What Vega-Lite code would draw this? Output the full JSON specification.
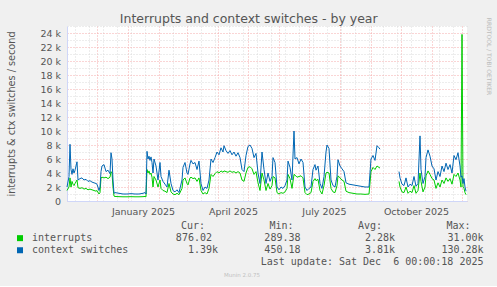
{
"$schema": "https://vega.github.io/schema/vega-lite/v6.json",
"background": "#f0f0f0",
"padding": {"left": 5, "top": 12, "right": 7, "bottom": 8},
"title": {"text": "Interrupts and context switches - by year", "font": "DejaVu Sans", "fontSize": 12.5, "fontWeight": "normal", "color": "#555555", "anchor": "middle", "offset": -8},
"spacing": 4,
"resolve": {"scale": {"color": "independent"}},
"config": {"view": {"stroke": null}, "font": "DejaVu Sans"},
"datasets": {
"lines": [
{"date":"2024-11-01","series":"interrupts","value":1500},
{"date":"2024-11-03","series":"interrupts","value":2000},
{"date":"2024-11-04","series":"interrupts","value":3300},
{"date":"2024-11-05","series":"interrupts","value":2000},
{"date":"2024-11-06","series":"interrupts","value":2800},
{"date":"2024-11-07","series":"interrupts","value":2400},
{"date":"2024-11-08","series":"interrupts","value":2200},
{"date":"2024-11-09","series":"interrupts","value":2500},
{"date":"2024-11-11","series":"interrupts","value":3000},
{"date":"2024-11-12","series":"interrupts","value":1900},
{"date":"2024-11-14","series":"interrupts","value":1800},
{"date":"2024-11-16","series":"interrupts","value":1900},
{"date":"2024-11-18","series":"interrupts","value":1700},
{"date":"2024-11-20","series":"interrupts","value":1800},
{"date":"2024-11-22","series":"interrupts","value":1600},
{"date":"2024-11-24","series":"interrupts","value":1700},
{"date":"2024-11-26","series":"interrupts","value":1600},
{"date":"2024-11-28","series":"interrupts","value":1500},
{"date":"2024-11-30","series":"interrupts","value":1400},
{"date":"2024-12-01","series":"interrupts","value":1500},
{"date":"2024-12-03","series":"interrupts","value":1000},
{"date":"2024-12-04","series":"interrupts","value":1200},
{"date":"2024-12-05","series":"interrupts","value":3300},
{"date":"2024-12-06","series":"interrupts","value":3400},
{"date":"2024-12-08","series":"interrupts","value":3300},
{"date":"2024-12-10","series":"interrupts","value":3400},
{"date":"2024-12-12","series":"interrupts","value":3200},
{"date":"2024-12-14","series":"interrupts","value":3400},
{"date":"2024-12-15","series":"interrupts","value":4200},
{"date":"2024-12-16","series":"interrupts","value":4000},
{"date":"2024-12-17","series":"interrupts","value":2000},
{"date":"2024-12-18","series":"interrupts","value":700},
{"date":"2024-12-19","series":"interrupts","value":650},
{"date":"2024-12-23","series":"interrupts","value":620},
{"date":"2024-12-27","series":"interrupts","value":600},
{"date":"2024-12-31","series":"interrupts","value":600},
{"date":"2025-01-04","series":"interrupts","value":620},
{"date":"2025-01-08","series":"interrupts","value":600},
{"date":"2025-01-12","series":"interrupts","value":600},
{"date":"2025-01-16","series":"interrupts","value":620},
{"date":"2025-01-18","series":"interrupts","value":650},
{"date":"2025-01-19","series":"interrupts","value":600},
{"date":"2025-01-20","series":"interrupts","value":4500},
{"date":"2025-01-21","series":"interrupts","value":4000},
{"date":"2025-01-22","series":"interrupts","value":4300},
{"date":"2025-01-23","series":"interrupts","value":3800},
{"date":"2025-01-24","series":"interrupts","value":4000},
{"date":"2025-01-25","series":"interrupts","value":3400},
{"date":"2025-01-26","series":"interrupts","value":2000},
{"date":"2025-01-27","series":"interrupts","value":3500},
{"date":"2025-01-29","series":"interrupts","value":3000},
{"date":"2025-01-31","series":"interrupts","value":2000},
{"date":"2025-02-02","series":"interrupts","value":3000},
{"date":"2025-02-03","series":"interrupts","value":1800},
{"date":"2025-02-05","series":"interrupts","value":1500},
{"date":"2025-02-07","series":"interrupts","value":1400},
{"date":"2025-02-09","series":"interrupts","value":1200},
{"date":"2025-02-11","series":"interrupts","value":2500},
{"date":"2025-02-13","series":"interrupts","value":1300},
{"date":"2025-02-15","series":"interrupts","value":1000},
{"date":"2025-02-17","series":"interrupts","value":900},
{"date":"2025-02-19","series":"interrupts","value":1100},
{"date":"2025-02-21","series":"interrupts","value":900},
{"date":"2025-02-24","series":"interrupts","value":1800},
{"date":"2025-02-25","series":"interrupts","value":3000},
{"date":"2025-02-27","series":"interrupts","value":3300},
{"date":"2025-03-01","series":"interrupts","value":2500},
{"date":"2025-03-02","series":"interrupts","value":2300},
{"date":"2025-03-04","series":"interrupts","value":3300},
{"date":"2025-03-05","series":"interrupts","value":3400},
{"date":"2025-03-07","series":"interrupts","value":3200},
{"date":"2025-03-09","series":"interrupts","value":3300},
{"date":"2025-03-11","series":"interrupts","value":2800},
{"date":"2025-03-13","series":"interrupts","value":3300},
{"date":"2025-03-15","series":"interrupts","value":1500},
{"date":"2025-03-17","series":"interrupts","value":1000},
{"date":"2025-03-19","series":"interrupts","value":1200},
{"date":"2025-03-21","series":"interrupts","value":1000},
{"date":"2025-03-23","series":"interrupts","value":1800},
{"date":"2025-03-25","series":"interrupts","value":3800},
{"date":"2025-03-27","series":"interrupts","value":3500},
{"date":"2025-03-29","series":"interrupts","value":3900},
{"date":"2025-03-31","series":"interrupts","value":4200},
{"date":"2025-04-02","series":"interrupts","value":4000},
{"date":"2025-04-04","series":"interrupts","value":4300},
{"date":"2025-04-06","series":"interrupts","value":4100},
{"date":"2025-04-07","series":"interrupts","value":4300},
{"date":"2025-04-09","series":"interrupts","value":4200},
{"date":"2025-04-11","series":"interrupts","value":4100},
{"date":"2025-04-13","series":"interrupts","value":4300},
{"date":"2025-04-15","series":"interrupts","value":4100},
{"date":"2025-04-17","series":"interrupts","value":4200},
{"date":"2025-04-19","series":"interrupts","value":4000},
{"date":"2025-04-21","series":"interrupts","value":4200},
{"date":"2025-04-23","series":"interrupts","value":4000},
{"date":"2025-04-25","series":"interrupts","value":3000},
{"date":"2025-04-27","series":"interrupts","value":2800},
{"date":"2025-04-29","series":"interrupts","value":4000},
{"date":"2025-05-01","series":"interrupts","value":4800},
{"date":"2025-05-03","series":"interrupts","value":4900},
{"date":"2025-05-05","series":"interrupts","value":4600},
{"date":"2025-05-07","series":"interrupts","value":3800},
{"date":"2025-05-09","series":"interrupts","value":4200},
{"date":"2025-05-11","series":"interrupts","value":2600},
{"date":"2025-05-13","series":"interrupts","value":1500},
{"date":"2025-05-15","series":"interrupts","value":4000},
{"date":"2025-05-17","series":"interrupts","value":3000},
{"date":"2025-05-19","series":"interrupts","value":1500},
{"date":"2025-05-21","series":"interrupts","value":2500},
{"date":"2025-05-23","series":"interrupts","value":1700},
{"date":"2025-05-25","series":"interrupts","value":2200},
{"date":"2025-05-26","series":"interrupts","value":3500},
{"date":"2025-05-28","series":"interrupts","value":3300},
{"date":"2025-05-30","series":"interrupts","value":1200},
{"date":"2025-06-01","series":"interrupts","value":1000},
{"date":"2025-06-03","series":"interrupts","value":1200},
{"date":"2025-06-05","series":"interrupts","value":1100},
{"date":"2025-06-07","series":"interrupts","value":1300},
{"date":"2025-06-09","series":"interrupts","value":1800},
{"date":"2025-06-10","series":"interrupts","value":3800},
{"date":"2025-06-12","series":"interrupts","value":3200},
{"date":"2025-06-14","series":"interrupts","value":1800},
{"date":"2025-06-16","series":"interrupts","value":3800},
{"date":"2025-06-17","series":"interrupts","value":3700},
{"date":"2025-06-19","series":"interrupts","value":3400},
{"date":"2025-06-21","series":"interrupts","value":3500},
{"date":"2025-06-23","series":"interrupts","value":3600},
{"date":"2025-06-25","series":"interrupts","value":3300},
{"date":"2025-06-27","series":"interrupts","value":1200},
{"date":"2025-06-29","series":"interrupts","value":900},
{"date":"2025-07-01","series":"interrupts","value":1000},
{"date":"2025-07-03","series":"interrupts","value":1200},
{"date":"2025-07-05","series":"interrupts","value":2800},
{"date":"2025-07-07","series":"interrupts","value":3200},
{"date":"2025-07-08","series":"interrupts","value":2900},
{"date":"2025-07-10","series":"interrupts","value":3100},
{"date":"2025-07-12","series":"interrupts","value":1500},
{"date":"2025-07-14","series":"interrupts","value":1000},
{"date":"2025-07-16","series":"interrupts","value":2200},
{"date":"2025-07-18","series":"interrupts","value":4000},
{"date":"2025-07-19","series":"interrupts","value":4100},
{"date":"2025-07-21","series":"interrupts","value":4000},
{"date":"2025-07-23","series":"interrupts","value":1800},
{"date":"2025-07-25","series":"interrupts","value":1300},
{"date":"2025-07-27","series":"interrupts","value":1200},
{"date":"2025-07-29","series":"interrupts","value":2200},
{"date":"2025-07-30","series":"interrupts","value":3600},
{"date":"2025-08-01","series":"interrupts","value":3300},
{"date":"2025-08-03","series":"interrupts","value":3000},
{"date":"2025-08-05","series":"interrupts","value":2800},
{"date":"2025-08-07","series":"interrupts","value":1400},
{"date":"2025-08-10","series":"interrupts","value":1200},
{"date":"2025-08-14","series":"interrupts","value":1100},
{"date":"2025-08-18","series":"interrupts","value":1000},
{"date":"2025-08-22","series":"interrupts","value":1000},
{"date":"2025-08-26","series":"interrupts","value":950},
{"date":"2025-08-30","series":"interrupts","value":1000},
{"date":"2025-09-01","series":"interrupts","value":4200},
{"date":"2025-09-03","series":"interrupts","value":4800},
{"date":"2025-09-05","series":"interrupts","value":4500},
{"date":"2025-09-07","series":"interrupts","value":5000},
{"date":"2025-09-09","series":"interrupts","value":4800},
{"date":"2025-09-10","series":"interrupts","value":4700},
{"date":"2025-09-17","series":"interrupts","value":null},
{"date":"2025-09-29","series":"interrupts","value":2800},
{"date":"2025-09-30","series":"interrupts","value":2000},
{"date":"2025-10-02","series":"interrupts","value":1300},
{"date":"2025-10-04","series":"interrupts","value":1200},
{"date":"2025-10-06","series":"interrupts","value":2000},
{"date":"2025-10-08","series":"interrupts","value":1100},
{"date":"2025-10-10","series":"interrupts","value":1400},
{"date":"2025-10-12","series":"interrupts","value":1200},
{"date":"2025-10-14","series":"interrupts","value":2200},
{"date":"2025-10-16","series":"interrupts","value":1100},
{"date":"2025-10-18","series":"interrupts","value":1500},
{"date":"2025-10-20","series":"interrupts","value":4000},
{"date":"2025-10-21","series":"interrupts","value":2800},
{"date":"2025-10-23","series":"interrupts","value":1300},
{"date":"2025-10-25","series":"interrupts","value":2000},
{"date":"2025-10-26","series":"interrupts","value":3600},
{"date":"2025-10-28","series":"interrupts","value":4300},
{"date":"2025-10-30","series":"interrupts","value":3800},
{"date":"2025-11-01","series":"interrupts","value":3200},
{"date":"2025-11-03","series":"interrupts","value":3000},
{"date":"2025-11-05","series":"interrupts","value":1800},
{"date":"2025-11-07","series":"interrupts","value":2600},
{"date":"2025-11-09","series":"interrupts","value":2000},
{"date":"2025-11-11","series":"interrupts","value":3000},
{"date":"2025-11-13","series":"interrupts","value":2500},
{"date":"2025-11-15","series":"interrupts","value":3300},
{"date":"2025-11-17","series":"interrupts","value":2800},
{"date":"2025-11-19","series":"interrupts","value":3200},
{"date":"2025-11-21","series":"interrupts","value":2400},
{"date":"2025-11-23","series":"interrupts","value":3800},
{"date":"2025-11-25","series":"interrupts","value":3500},
{"date":"2025-11-27","series":"interrupts","value":4000},
{"date":"2025-11-29","series":"interrupts","value":3000},
{"date":"2025-11-30","series":"interrupts","value":2000},
{"date":"2025-12-01","series":"interrupts","value":23800},
{"date":"2025-12-02","series":"interrupts","value":2000},
{"date":"2025-12-03","series":"interrupts","value":1800},
{"date":"2025-12-04","series":"interrupts","value":1200},
{"date":"2025-12-05","series":"interrupts","value":900},
{"date":"2024-11-01","series":"context switches","value":2000},
{"date":"2024-11-03","series":"context switches","value":3500},
{"date":"2024-11-04","series":"context switches","value":8100},
{"date":"2024-11-05","series":"context switches","value":4500},
{"date":"2024-11-06","series":"context switches","value":3800},
{"date":"2024-11-07","series":"context switches","value":4600},
{"date":"2024-11-08","series":"context switches","value":4000},
{"date":"2024-11-09","series":"context switches","value":4400},
{"date":"2024-11-11","series":"context switches","value":5600},
{"date":"2024-11-12","series":"context switches","value":3000},
{"date":"2024-11-14","series":"context switches","value":3200},
{"date":"2024-11-16","series":"context switches","value":3300},
{"date":"2024-11-18","series":"context switches","value":3000},
{"date":"2024-11-20","series":"context switches","value":3100},
{"date":"2024-11-22","series":"context switches","value":2800},
{"date":"2024-11-24","series":"context switches","value":2900},
{"date":"2024-11-26","series":"context switches","value":2700},
{"date":"2024-11-28","series":"context switches","value":2600},
{"date":"2024-11-30","series":"context switches","value":2500},
{"date":"2024-12-01","series":"context switches","value":2400},
{"date":"2024-12-03","series":"context switches","value":1500},
{"date":"2024-12-04","series":"context switches","value":2000},
{"date":"2024-12-05","series":"context switches","value":4200},
{"date":"2024-12-06","series":"context switches","value":5000},
{"date":"2024-12-08","series":"context switches","value":5200},
{"date":"2024-12-10","series":"context switches","value":4200},
{"date":"2024-12-12","series":"context switches","value":4400},
{"date":"2024-12-14","series":"context switches","value":3900},
{"date":"2024-12-15","series":"context switches","value":6900},
{"date":"2024-12-16","series":"context switches","value":6000},
{"date":"2024-12-17","series":"context switches","value":3000},
{"date":"2024-12-18","series":"context switches","value":1100},
{"date":"2024-12-19","series":"context switches","value":1200},
{"date":"2024-12-23","series":"context switches","value":1100},
{"date":"2024-12-27","series":"context switches","value":1000},
{"date":"2024-12-31","series":"context switches","value":1000},
{"date":"2025-01-04","series":"context switches","value":1050},
{"date":"2025-01-08","series":"context switches","value":1000},
{"date":"2025-01-12","series":"context switches","value":1000},
{"date":"2025-01-16","series":"context switches","value":1100},
{"date":"2025-01-18","series":"context switches","value":1200},
{"date":"2025-01-19","series":"context switches","value":1000},
{"date":"2025-01-20","series":"context switches","value":7100},
{"date":"2025-01-21","series":"context switches","value":6000},
{"date":"2025-01-22","series":"context switches","value":6400},
{"date":"2025-01-23","series":"context switches","value":5800},
{"date":"2025-01-24","series":"context switches","value":6300},
{"date":"2025-01-25","series":"context switches","value":5500},
{"date":"2025-01-26","series":"context switches","value":4000},
{"date":"2025-01-27","series":"context switches","value":6000},
{"date":"2025-01-29","series":"context switches","value":5000},
{"date":"2025-01-31","series":"context switches","value":3000},
{"date":"2025-02-02","series":"context switches","value":5500},
{"date":"2025-02-03","series":"context switches","value":3500},
{"date":"2025-02-05","series":"context switches","value":2800},
{"date":"2025-02-07","series":"context switches","value":2400},
{"date":"2025-02-09","series":"context switches","value":2000},
{"date":"2025-02-11","series":"context switches","value":4400},
{"date":"2025-02-13","series":"context switches","value":2500},
{"date":"2025-02-15","series":"context switches","value":1500},
{"date":"2025-02-17","series":"context switches","value":1300},
{"date":"2025-02-19","series":"context switches","value":1600},
{"date":"2025-02-21","series":"context switches","value":1200},
{"date":"2025-02-24","series":"context switches","value":3000},
{"date":"2025-02-25","series":"context switches","value":4800},
{"date":"2025-02-27","series":"context switches","value":5500},
{"date":"2025-03-01","series":"context switches","value":4000},
{"date":"2025-03-02","series":"context switches","value":3800},
{"date":"2025-03-04","series":"context switches","value":5300},
{"date":"2025-03-05","series":"context switches","value":5800},
{"date":"2025-03-07","series":"context switches","value":5300},
{"date":"2025-03-09","series":"context switches","value":5500},
{"date":"2025-03-11","series":"context switches","value":4500},
{"date":"2025-03-13","series":"context switches","value":5700},
{"date":"2025-03-15","series":"context switches","value":2500},
{"date":"2025-03-17","series":"context switches","value":1500},
{"date":"2025-03-19","series":"context switches","value":2000},
{"date":"2025-03-21","series":"context switches","value":1800},
{"date":"2025-03-23","series":"context switches","value":3000},
{"date":"2025-03-25","series":"context switches","value":6000},
{"date":"2025-03-27","series":"context switches","value":5500},
{"date":"2025-03-29","series":"context switches","value":6200},
{"date":"2025-03-31","series":"context switches","value":7000},
{"date":"2025-04-02","series":"context switches","value":6600},
{"date":"2025-04-04","series":"context switches","value":7600},
{"date":"2025-04-06","series":"context switches","value":7000},
{"date":"2025-04-07","series":"context switches","value":7900},
{"date":"2025-04-09","series":"context switches","value":7200},
{"date":"2025-04-11","series":"context switches","value":6800},
{"date":"2025-04-13","series":"context switches","value":7200},
{"date":"2025-04-15","series":"context switches","value":6600},
{"date":"2025-04-17","series":"context switches","value":7000},
{"date":"2025-04-19","series":"context switches","value":6400},
{"date":"2025-04-21","series":"context switches","value":6900},
{"date":"2025-04-23","series":"context switches","value":6200},
{"date":"2025-04-25","series":"context switches","value":4500},
{"date":"2025-04-27","series":"context switches","value":4200},
{"date":"2025-04-29","series":"context switches","value":6500},
{"date":"2025-05-01","series":"context switches","value":7800},
{"date":"2025-05-03","series":"context switches","value":8000},
{"date":"2025-05-05","series":"context switches","value":7500},
{"date":"2025-05-07","series":"context switches","value":6200},
{"date":"2025-05-09","series":"context switches","value":6800},
{"date":"2025-05-11","series":"context switches","value":4000},
{"date":"2025-05-13","series":"context switches","value":2500},
{"date":"2025-05-15","series":"context switches","value":7000},
{"date":"2025-05-17","series":"context switches","value":4500},
{"date":"2025-05-19","series":"context switches","value":2500},
{"date":"2025-05-21","series":"context switches","value":4000},
{"date":"2025-05-23","series":"context switches","value":2800},
{"date":"2025-05-25","series":"context switches","value":3500},
{"date":"2025-05-26","series":"context switches","value":6200},
{"date":"2025-05-28","series":"context switches","value":5500},
{"date":"2025-05-30","series":"context switches","value":2000},
{"date":"2025-06-01","series":"context switches","value":1600},
{"date":"2025-06-03","series":"context switches","value":2000},
{"date":"2025-06-05","series":"context switches","value":1800},
{"date":"2025-06-07","series":"context switches","value":2200},
{"date":"2025-06-09","series":"context switches","value":3000},
{"date":"2025-06-10","series":"context switches","value":5700},
{"date":"2025-06-12","series":"context switches","value":4800},
{"date":"2025-06-14","series":"context switches","value":3000},
{"date":"2025-06-16","series":"context switches","value":10000},
{"date":"2025-06-17","series":"context switches","value":6000},
{"date":"2025-06-19","series":"context switches","value":6200},
{"date":"2025-06-21","series":"context switches","value":5300},
{"date":"2025-06-23","series":"context switches","value":6000},
{"date":"2025-06-25","series":"context switches","value":5500},
{"date":"2025-06-27","series":"context switches","value":2000},
{"date":"2025-06-29","series":"context switches","value":1500},
{"date":"2025-07-01","series":"context switches","value":1800},
{"date":"2025-07-03","series":"context switches","value":2000},
{"date":"2025-07-05","series":"context switches","value":4500},
{"date":"2025-07-07","series":"context switches","value":5200},
{"date":"2025-07-08","series":"context switches","value":4400},
{"date":"2025-07-10","series":"context switches","value":5000},
{"date":"2025-07-12","series":"context switches","value":2500},
{"date":"2025-07-14","series":"context switches","value":1800},
{"date":"2025-07-16","series":"context switches","value":3500},
{"date":"2025-07-18","series":"context switches","value":7000},
{"date":"2025-07-19","series":"context switches","value":8000},
{"date":"2025-07-21","series":"context switches","value":7500},
{"date":"2025-07-23","series":"context switches","value":3000},
{"date":"2025-07-25","series":"context switches","value":2200},
{"date":"2025-07-27","series":"context switches","value":2000},
{"date":"2025-07-29","series":"context switches","value":3500},
{"date":"2025-07-30","series":"context switches","value":5900},
{"date":"2025-08-01","series":"context switches","value":5000},
{"date":"2025-08-03","series":"context switches","value":4600},
{"date":"2025-08-05","series":"context switches","value":4200},
{"date":"2025-08-07","series":"context switches","value":2600},
{"date":"2025-08-10","series":"context switches","value":2400},
{"date":"2025-08-14","series":"context switches","value":2300},
{"date":"2025-08-18","series":"context switches","value":2200},
{"date":"2025-08-22","series":"context switches","value":2100},
{"date":"2025-08-26","series":"context switches","value":2000},
{"date":"2025-08-30","series":"context switches","value":2000},
{"date":"2025-09-01","series":"context switches","value":6000},
{"date":"2025-09-03","series":"context switches","value":6500},
{"date":"2025-09-05","series":"context switches","value":5800},
{"date":"2025-09-07","series":"context switches","value":7900},
{"date":"2025-09-09","series":"context switches","value":7600},
{"date":"2025-09-10","series":"context switches","value":7400},
{"date":"2025-09-17","series":"context switches","value":null},
{"date":"2025-09-29","series":"context switches","value":4200},
{"date":"2025-09-30","series":"context switches","value":3300},
{"date":"2025-10-02","series":"context switches","value":2400},
{"date":"2025-10-04","series":"context switches","value":2200},
{"date":"2025-10-06","series":"context switches","value":3300},
{"date":"2025-10-08","series":"context switches","value":2000},
{"date":"2025-10-10","series":"context switches","value":2400},
{"date":"2025-10-12","series":"context switches","value":2200},
{"date":"2025-10-14","series":"context switches","value":3500},
{"date":"2025-10-16","series":"context switches","value":2100},
{"date":"2025-10-18","series":"context switches","value":2500},
{"date":"2025-10-20","series":"context switches","value":9300},
{"date":"2025-10-21","series":"context switches","value":4500},
{"date":"2025-10-23","series":"context switches","value":2500},
{"date":"2025-10-25","series":"context switches","value":3500},
{"date":"2025-10-26","series":"context switches","value":6200},
{"date":"2025-10-28","series":"context switches","value":7300},
{"date":"2025-10-30","series":"context switches","value":6400},
{"date":"2025-11-01","series":"context switches","value":5000},
{"date":"2025-11-03","series":"context switches","value":4600},
{"date":"2025-11-05","series":"context switches","value":3000},
{"date":"2025-11-07","series":"context switches","value":4200},
{"date":"2025-11-09","series":"context switches","value":3500},
{"date":"2025-11-11","series":"context switches","value":5000},
{"date":"2025-11-13","series":"context switches","value":4200},
{"date":"2025-11-15","series":"context switches","value":5400},
{"date":"2025-11-17","series":"context switches","value":4500},
{"date":"2025-11-19","series":"context switches","value":5200},
{"date":"2025-11-21","series":"context switches","value":4000},
{"date":"2025-11-23","series":"context switches","value":6500},
{"date":"2025-11-25","series":"context switches","value":5900},
{"date":"2025-11-27","series":"context switches","value":6900},
{"date":"2025-11-29","series":"context switches","value":5000},
{"date":"2025-11-30","series":"context switches","value":3400},
{"date":"2025-12-01","series":"context switches","value":3600},
{"date":"2025-12-02","series":"context switches","value":2500},
{"date":"2025-12-03","series":"context switches","value":3200},
{"date":"2025-12-04","series":"context switches","value":2000},
{"date":"2025-12-05","series":"context switches","value":1400}
],
"stats": [
{"row":"interrupts","col":"Cur","num":"876.02","unit":""},
{"row":"interrupts","col":"Min","num":"289.38","unit":""},
{"row":"interrupts","col":"Avg","num":"2.28","unit":"k"},
{"row":"interrupts","col":"Max","num":"31.00","unit":"k"},
{"row":"context switches","col":"Cur","num":"1.39","unit":"k"},
{"row":"context switches","col":"Min","num":"450.18","unit":""},
{"row":"context switches","col":"Avg","num":"3.81","unit":"k"},
{"row":"context switches","col":"Max","num":"130.28","unit":"k"}
],
"heads": [
{"row":"head","col":"Cur","text":"Cur:"},
{"row":"head","col":"Min","text":"Min:"},
{"row":"head","col":"Avg","text":"Avg:"},
{"row":"head","col":"Max","text":"Max:"}
],
"update": [
{"row":"update","col":"Max","text":"Last update: Sat Dec\u00a0\u00a06 00:00:18 2025"}
]
},
"vconcat": [
{
"width": 400,
"height": 175,
"view": {"fill": "#ffffff", "stroke": null},
"data": {"name": "lines"},
"encoding": {
"x": {"field": "date", "type": "temporal",
"scale": {"type": "utc", "domain": [{"year": 2024, "month": 11, "date": 1, "utc": true}, {"year": 2025, "month": 12, "date": 6, "utc": true}]},
"axis": {
"values": [
{"year":2024,"month":11,"date":9,"utc":true},
{"year":2024,"month":11,"date":23,"utc":true},
{"year":2024,"month":12,"date":1,"utc":true},
{"year":2024,"month":12,"date":7,"utc":true},
{"year":2024,"month":12,"date":21,"utc":true},
{"year":2025,"month":1,"date":1,"utc":true},
{"year":2025,"month":1,"date":4,"utc":true},
{"year":2025,"month":1,"date":18,"utc":true},
{"year":2025,"month":2,"date":1,"utc":true},
{"year":2025,"month":2,"date":15,"utc":true},
{"year":2025,"month":3,"date":1,"utc":true},
{"year":2025,"month":3,"date":15,"utc":true},
{"year":2025,"month":3,"date":29,"utc":true},
{"year":2025,"month":4,"date":1,"utc":true},
{"year":2025,"month":4,"date":12,"utc":true},
{"year":2025,"month":4,"date":26,"utc":true},
{"year":2025,"month":5,"date":1,"utc":true},
{"year":2025,"month":5,"date":10,"utc":true},
{"year":2025,"month":5,"date":24,"utc":true},
{"year":2025,"month":6,"date":1,"utc":true},
{"year":2025,"month":6,"date":7,"utc":true},
{"year":2025,"month":6,"date":21,"utc":true},
{"year":2025,"month":7,"date":1,"utc":true},
{"year":2025,"month":7,"date":5,"utc":true},
{"year":2025,"month":7,"date":19,"utc":true},
{"year":2025,"month":8,"date":1,"utc":true},
{"year":2025,"month":8,"date":2,"utc":true},
{"year":2025,"month":8,"date":16,"utc":true},
{"year":2025,"month":8,"date":30,"utc":true},
{"year":2025,"month":9,"date":1,"utc":true},
{"year":2025,"month":9,"date":13,"utc":true},
{"year":2025,"month":9,"date":27,"utc":true},
{"year":2025,"month":10,"date":1,"utc":true},
{"year":2025,"month":10,"date":11,"utc":true},
{"year":2025,"month":10,"date":25,"utc":true},
{"year":2025,"month":11,"date":1,"utc":true},
{"year":2025,"month":11,"date":8,"utc":true},
{"year":2025,"month":11,"date":22,"utc":true},
{"year":2025,"month":12,"date":1,"utc":true}
],
"labelExpr": "utcdate(datum.value) == 1 && utcmonth(datum.value) % 3 == 0 ? utcFormat(datum.value, '%B %Y') : ''",
"labelOffset": 15,
"labelOverlap": false,
"labelFlush": false,
"labelFont": "DejaVu Sans",
"labelFontSize": 9.5,
"labelColor": "#555555",
"labelPadding": 5,
"ticks": false,
"domainColor": "#cfd6f8",
"grid": true,
"gridColor": {"condition": {"test": "utcdate(datum.value) == 1", "value": "#f4aaaa"}, "value": "#dadada"},
"gridDash": [1, 2],
"title": null
}
}
},
"layer": [
{
"transform": [{"filter": "datum.series == 'interrupts'"}],
"mark": {"type": "line", "strokeWidth": 1},
"encoding": {
"y": {"field": "value", "type": "quantitative",
"scale": {"domain": [0, 25000], "nice": false, "zero": true},
"axis": {
"orient": "left",
"values": [0,1000,2000,3000,4000,5000,6000,7000,8000,9000,10000,11000,12000,13000,14000,15000,16000,17000,18000,19000,20000,21000,22000,23000,24000,25000],
"labelExpr": "datum.value % 2000 == 0 && datum.value <= 24000 ? (datum.value == 0 ? '0' : (datum.value / 1000) + ' k') : ''",
"labelOverlap": false,
"labelFont": "DejaVu Sans",
"labelFontSize": 9.5,
"labelColor": "#555555",
"labelPadding": 6.5,
"ticks": false,
"domainColor": "#cfd6f8",
"grid": true,
"gridColor": {"condition": {"test": "datum.value % 2000 == 0", "value": "#f4aaaa"}, "value": "#dadada"},
"gridDash": [1, 2],
"title": "interrupts & ctx switches / second",
"titleFont": "DejaVu Sans",
"titleFontSize": 9.7,
"titleFontWeight": "normal",
"titleColor": "#555555",
"titleAngle": -90,
"titleX": -56,
"titleY": 87.5,
"titleAlign": "center",
"titleBaseline": "middle"
}
},
"color": {"field": "series", "type": "nominal", "scale": {"domain": ["interrupts", "context switches"], "range": ["#00cc00", "#0066b3"]}, "legend": null}
}
},
{
"transform": [{"filter": "datum.series == 'context switches'"}],
"mark": {"type": "line", "strokeWidth": 1},
"encoding": {
"y": {"field": "value", "type": "quantitative",
"scale": {"domain": [0, 25000], "nice": false, "zero": true},
"axis": {
"orient": "right",
"labels": false,
"ticks": false,
"domain": false,
"grid": false,
"title": "RRDTOOL / TOBI OETIKER",
"titleFont": "DejaVu Sans",
"titleFontSize": 6,
"titleFontWeight": "normal",
"titleColor": "#bbbbbb",
"titleAngle": 90,
"titleX": 21.5,
"titleY": 30,
"titleAlign": "center",
"titleBaseline": "middle"
}
},
"color": {"field": "series", "type": "nominal", "scale": {"domain": ["interrupts", "context switches"], "range": ["#00cc00", "#0066b3"]}, "legend": null}
}
}
],
"resolve": {"axis": {"y": "independent"}}
},
{
"width": 416.5,
"height": 48.4,
"view": {"stroke": null},
"encoding": {
"x": {"field": "col", "type": "nominal",
"scale": {"type": "point", "domain": ["Cur", "Min", "Avg", "Max"], "padding": 0.853, "align": 1},
"axis": {"orient": "bottom", "labels": false, "ticks": false, "domain": false, "grid": false,
"title": "Munin 2.0.75", "titleFont": "DejaVu Sans", "titleFontSize": 5.5, "titleFontWeight": "normal", "titleColor": "#c0c0c0",
"titleX": 174.5, "titleY": 6, "titleAlign": "center", "titleBaseline": "middle"}},
"y": {"field": "row", "type": "nominal",
"scale": {"type": "point", "domain": ["head", "interrupts", "context switches", "update"], "padding": 0.5},
"axis": null}
},
"layer": [
{
"data": {"name": "stats"},
"mark": {"type": "point", "shape": "square", "filled": true, "opacity": 0},
"encoding": {
"color": {"field": "row", "type": "nominal",
"scale": {"domain": ["interrupts", "context switches"], "range": ["#00cc00", "#0066b3"]},
"legend": {"orient": "none", "legendX": -52, "legendY": 13.15, "title": null, "direction": "vertical",
"symbolType": "square", "symbolSize": 36, "symbolStrokeWidth": 0, "symbolOpacity": 1,
"labelFont": "DejaVu Sans Mono", "labelFontSize": 10, "labelColor": "#555555", "labelOffset": 7,
"rowPadding": 2.1, "padding": 0}}
}
},
{
"data": {"name": "stats"},
"mark": {"type": "text", "align": "right", "dx": -6, "font": "DejaVu Sans Mono", "fontSize": 10, "color": "#555555"},
"encoding": {"text": {"field": "num"}}
},
{
"data": {"name": "stats"},
"mark": {"type": "text", "align": "left", "dx": -6, "font": "DejaVu Sans Mono", "fontSize": 10, "color": "#555555"},
"encoding": {"text": {"field": "unit"}}
},
{
"data": {"name": "heads"},
"mark": {"type": "text", "align": "right", "dx": -13, "font": "DejaVu Sans Mono", "fontSize": 10, "color": "#555555"},
"encoding": {"text": {"field": "text"}}
},
{
"data": {"name": "update"},
"mark": {"type": "text", "align": "right", "font": "DejaVu Sans Mono", "fontSize": 10, "color": "#555555"},
"encoding": {"text": {"field": "text"}}
}
]
}
]
}
